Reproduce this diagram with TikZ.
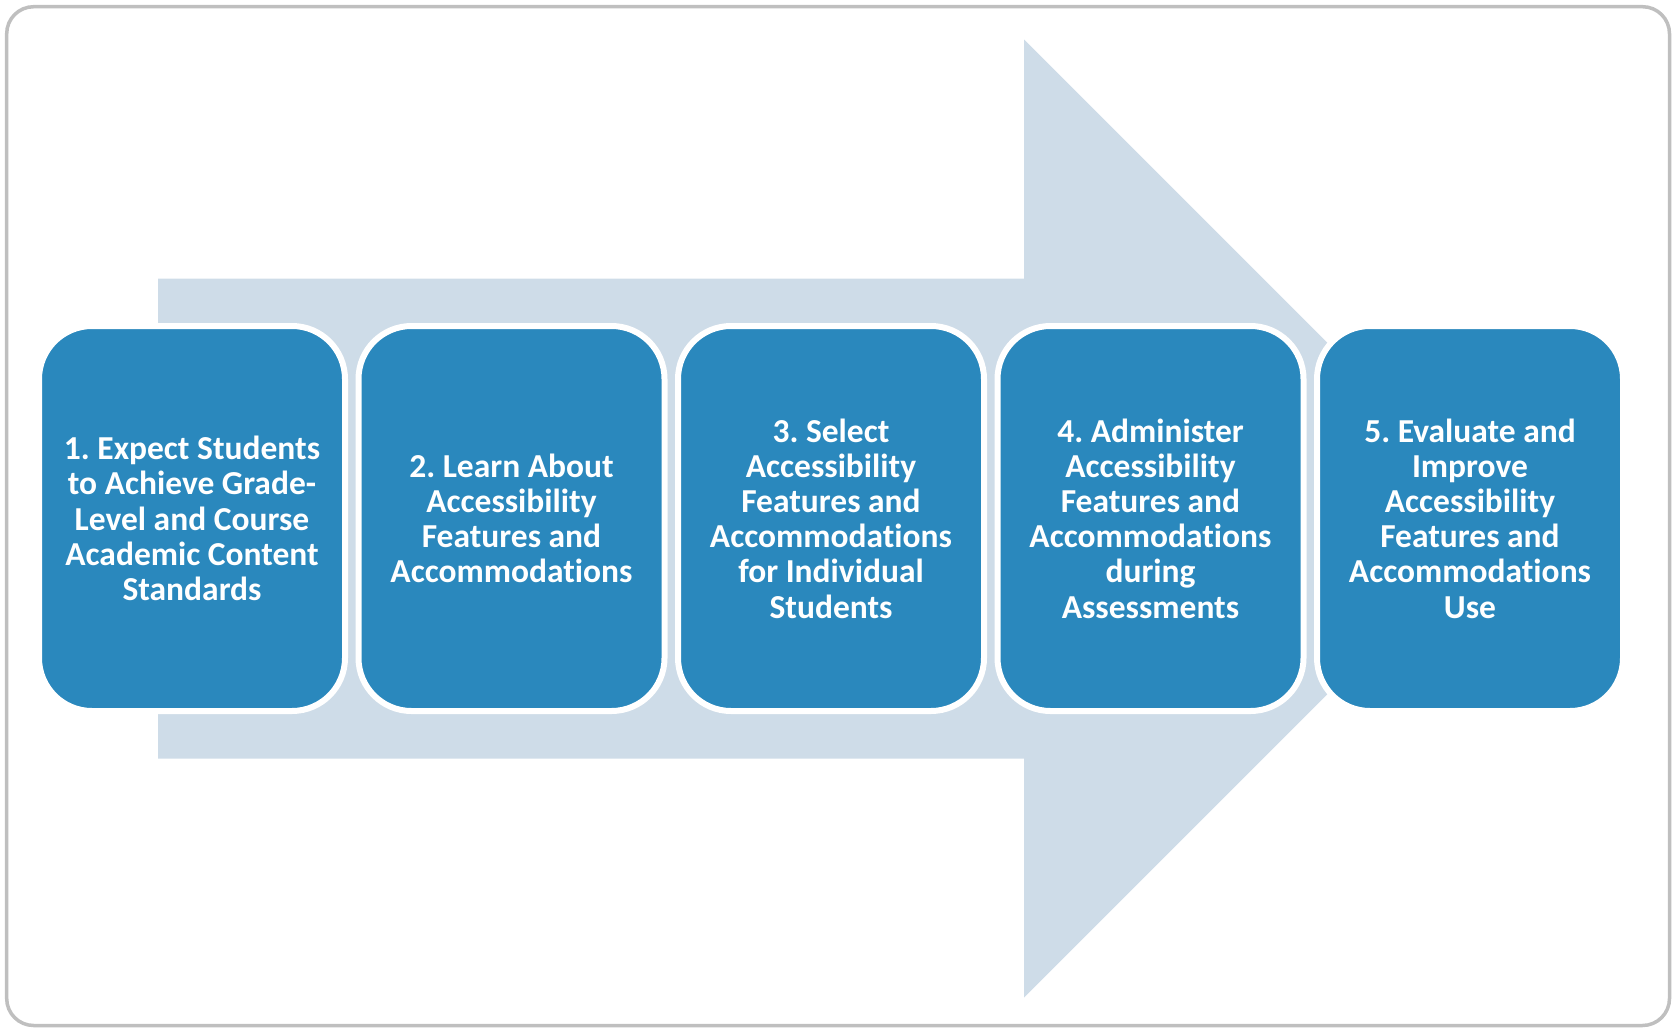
\documentclass[tikz,border=0pt]{standalone}
\usepackage{fontspec}
\setmainfont{Carlito}[Ligatures=NoCommon]
\frenchspacing
\definecolor{stepblue}{HTML}{2A88BD}
\definecolor{arrowfill}{HTML}{CEDCE8}
\definecolor{framegray}{HTML}{BFBFBF}
\begin{document}
\begin{tikzpicture}[x=1pt,y=-1pt,
  stepbox/.style={rectangle, rounded corners=53pt, fill=stepblue, draw=white,
    line width=6pt, minimum width=306pt, minimum height=385pt, inner sep=0pt,
    align=center, text=white,
    font=\fontsize{33.5}{35.2}\selectfont\bfseries}]
  % canvas and outer frame
  \useasboundingbox (0,0) rectangle (1673,1028);
  \draw[framegray, line width=3.5pt, rounded corners=27pt] (6.7,6.7) rectangle (1669.5,1025.5);
  % large background arrow
  \fill[arrowfill] (158,278.5) -- (1024,278.5) -- (1024,39.5) -- (1503,518.5)
    -- (1024,997.5) -- (1024,758.5) -- (158,758.5) -- cycle;
  % process steps
  \node[stepbox] (s1) at (192,518.5) {1. Expect Students\\to Achieve Grade-\\Level and Course\\Academic Content\\Standards};
  \node[stepbox] (s2) at (511.5,518.5) {2. Learn About\\Accessibility\\Features and\\Accommodations};
  \node[stepbox] (s3) at (831,518.5) {3. Select\\Accessibility\\Features and\\Accommodations\\for Individual\\Students};
  \node[stepbox] (s4) at (1150.5,518.5) {4. Administer\\Accessibility\\Features and\\Accommodations\\during\\Assessments};
  \node[stepbox] (s5) at (1470,518.5) {5. Evaluate and\\Improve\\Accessibility\\Features and\\Accommodations\\Use};
\end{tikzpicture}
\end{document}
